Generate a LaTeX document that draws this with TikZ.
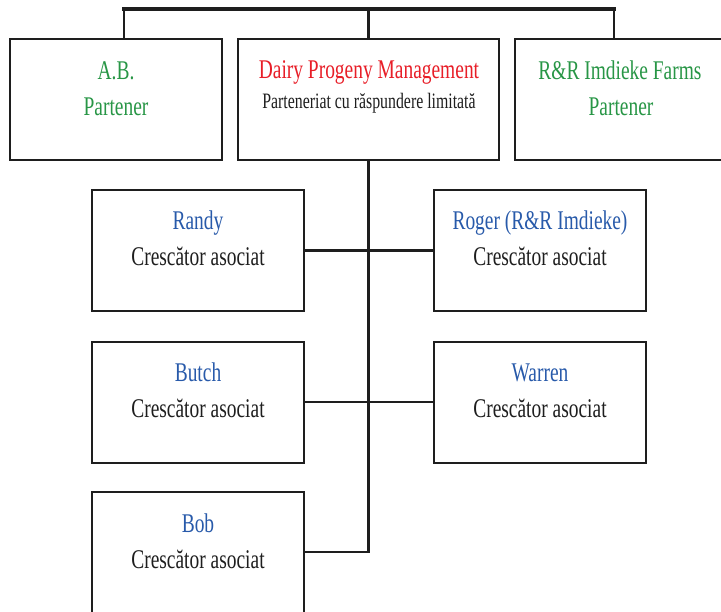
\documentclass[tikz,border=0pt]{standalone}
\usepackage{fontspec}
\setmainfont{Liberation Serif}[FakeStretch=0.72]
\definecolor{pgreen}{RGB}{40,150,70}
\definecolor{pred}{RGB}{232,30,40}
\definecolor{pblue}{RGB}{40,90,170}
\definecolor{pink}{RGB}{30,30,30}
\tikzset{
  box/.style={draw=pink, line width=1.5pt, fill=white, minimum width=212*0.75pt, minimum height=121*0.75pt, inner sep=0pt, outer sep=0pt},
  txt/.style={anchor=base, inner sep=0pt, font=\fontsize{20.25}{24}\selectfont},
  small/.style={anchor=base, inner sep=0pt, font=\fontsize{16.5}{20}\selectfont},
  conn/.style={draw=pink, line width=2.2pt},
  bar/.style={draw=pink, line width=3pt}
}
\begin{document}
\begin{tikzpicture}[x=0.75pt, y=-0.75pt]
\useasboundingbox (0,0) rectangle (721,611);
\clip (0,0) rectangle (721,611);
% top boxes
\node[box] (ab) at (116,99.5) {};
\node[box, minimum width=261*0.75pt] (dpm) at (368.5,99.5) {};
\node[box] (rr) at (621,99.5) {};
% crescatori
\node[box] (randy) at (198,250.5) {};
\node[box] (roger) at (540,250.5) {};
\node[box] (butch) at (198,402) {};
\node[box] (warren) at (540,402) {};
\node[box] (bob) at (198,552) {};
% connectors
\coordinate (tl) at (124,9);
\coordinate (tr) at (614,9);
\draw[conn] (tl) -- (tl |- ab.north);
\draw[conn] (tr) -- (tr |- rr.north);
\draw[conn] (dpm.north) -- (dpm.north |- tl);
\draw[bar, line cap=rect] (tl) -- (tr);
\draw[conn] (randy.east) -- (roger.west);
\draw[conn] (butch.east) -- (warren.west);
\draw[conn] (dpm.south) |- (bob.east);
% texts
\node[txt, text=pgreen] (abt1) at (116,79) {A.B.};
\node[txt, text=pgreen] (abt2) at (116,115) {Partener};
\node[txt, text=pred] (dpmt1) at (369,78) {Dairy Progeny Management};
\node[small, text=pink] (dpmt2) at (369,108) {Parteneriat cu răspundere limitată};
\node[txt, text=pgreen] (rrt1) at (620,79) {R\&R Imdieke Farms};
\node[txt, text=pgreen] (rrt2) at (621,115) {Partener};
\node[txt, text=pblue] (randyt1) at (198,229) {Randy};
\node[txt, text=pink] (randyt2) at (198,265) {Crescător asociat};
\node[txt, text=pblue] (rogert1) at (540,229) {Roger (R\&R Imdieke)};
\node[txt, text=pink] (rogert2) at (540,265) {Crescător asociat};
\node[txt, text=pblue] (butcht1) at (198,381) {Butch};
\node[txt, text=pink] (butcht2) at (198,417) {Crescător asociat};
\node[txt, text=pblue] (warrent1) at (540,381) {Warren};
\node[txt, text=pink] (warrent2) at (540,417) {Crescător asociat};
\node[txt, text=pblue] (bobt1) at (198,532) {Bob};
\node[txt, text=pink] (bobt2) at (198,568) {Crescător asociat};
\end{tikzpicture}
\end{document}
